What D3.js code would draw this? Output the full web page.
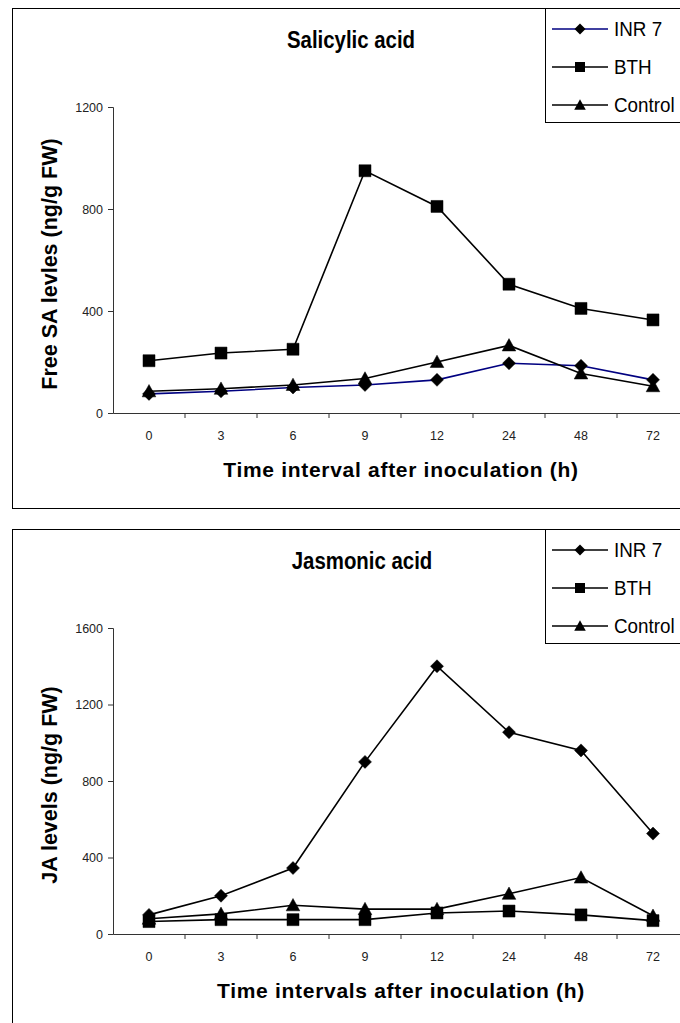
<!DOCTYPE html>
<html><head><meta charset="utf-8">
<script src="https://cdn.jsdelivr.net/npm/d3@7"></script>
<style>body{margin:0;background:#fff;overflow:hidden}</style>
</head><body><svg id="c" width="680" height="1023"></svg>
<script>
const categories = ["0","3","6","9","12","24","48","72"];
const seriesNames = ["INR 7","BTH","Control"];
const saINR7 = [75, 85, 100, 110, 130, 195, 185, 130];
const saBTH = [205, 235, 250, 950, 810, 505, 410, 365];
const saControl = [85, 95, 110, 135, 200, 265, 155, 105];
const jaINR7 = [100, 200, 345, 900, 1400, 1055, 960, 525];
const jaBTH = [65, 75, 75, 75, 110, 120, 100, 70];
const jaControl = [80, 105, 150, 130, 130, 210, 295, 95];
const saTicks = [0, 400, 800, 1200];
const jaTicks = [0, 400, 800, 1200, 1600];

const svg = d3.select("#c");
const FONT = "'Liberation Sans', Arial, sans-serif";

const markerPath = {
  diamond: r => `M0,${-r}L${r},0L0,${r}L${-r},0Z`,
  square: r => `M${-r},${-r}H${r}V${r}H${-r}Z`,
  triangle: r => `M0,${-r*1.05}L${r*1.05},${r*0.85}L${-r*1.05},${r*0.85}Z`
};

function panel(cfg) {
  const top = cfg.top;
  const g = svg.append("g");
  // frame
  g.append("rect").attr("x", 12.5).attr("y", top + 0.5).attr("width", 720).attr("height", cfg.frameH)
    .attr("fill", "#fff").attr("stroke", "#000").attr("stroke-width", 1);

  const x = d3.scaleBand().domain(categories).range([113, 113 + 72 * categories.length]).padding(0);
  const y = d3.scaleLinear().domain([0, cfg.max]).range([top + 405, top + 99]);

  // y axis
  const ya = g.append("g").attr("transform", "translate(113,0)")
    .call(d3.axisLeft(y).tickValues(cfg.ticks).tickSize(5).tickPadding(5).tickFormat(d3.format("d")));
  ya.select(".domain").attr("stroke", "#333");
  ya.selectAll(".tick line").attr("stroke", "#333");
  ya.selectAll("text").attr("font-family", FONT).attr("font-size", 12.5).attr("fill", "#222");

  // x axis (labels at band centers, ticks at band boundaries)
  const xa = g.append("g").attr("transform", `translate(0,${y(0)})`)
    .call(d3.axisBottom(x).tickSize(0).tickPadding(18));
  xa.select(".domain").attr("stroke", "#333");
  xa.selectAll("text").attr("font-family", FONT).attr("font-size", 12.5).attr("fill", "#222");
  g.append("g").selectAll("line").data(categories)
    .join("line")
    .attr("x1", d => x(d) + x.bandwidth()).attr("x2", d => x(d) + x.bandwidth())
    .attr("y1", y(0)).attr("y2", y(0) + 5).attr("stroke", "#333");

  // title
  g.append("text").attr("transform", `translate(${cfg.titleX},${top + 40}) scale(0.85,1)`)
    .attr("text-anchor", "middle").attr("font-family", FONT).attr("font-weight", "bold")
    .attr("font-size", 24).text(cfg.title);
  // axis titles
  g.append("text").attr("x", 401).attr("y", top + 469).attr("text-anchor", "middle")
    .attr("font-family", FONT).attr("font-weight", "bold").attr("font-size", 21)
    .attr("letter-spacing", 0.7).text(cfg.xTitle);
  g.append("text").attr("transform", `translate(57,${top + 256}) rotate(-90)`)
    .attr("text-anchor", "middle").attr("font-family", FONT).attr("font-weight", "bold")
    .attr("font-size", 21.5).text(cfg.yTitle);

  // series
  const line = d3.line().x((d, i) => x(categories[i]) + x.bandwidth() / 2).y(d => y(d));
  cfg.series.forEach(s => {
    g.append("path").datum(s.values).attr("d", line).attr("fill", "none")
      .attr("stroke", s.color).attr("stroke-width", 1.6);
  });
  cfg.series.forEach(s => {
    g.append("g").selectAll("path").data(s.values).join("path")
      .attr("transform", (d, i) => `translate(${x(categories[i]) + x.bandwidth() / 2},${y(d)})`)
      .attr("d", markerPath[s.marker](s.marker === "square" ? 6 : 6.5))
      .attr("fill", "#000").attr("stroke", "#000").attr("stroke-width", 0.5);
  });

  // legend
  const lg = g.append("g");
  lg.append("rect").attr("x", 545.5).attr("y", top + 0.5).attr("width", 200).attr("height", 114)
    .attr("fill", "#fff").attr("stroke", "#000");
  cfg.series.forEach((s, i) => {
    const ly = top + 21 + i * 38;
    lg.append("line").attr("x1", 552).attr("x2", 608).attr("y1", ly).attr("y2", ly)
      .attr("stroke", s.color).attr("stroke-width", 1.6);
    lg.append("path").attr("transform", `translate(580,${ly})`)
      .attr("d", markerPath[s.marker](s.marker === "square" ? 5 : 5.5)).attr("fill", "#000");
    lg.append("text").attr("transform", `translate(614,${ly + 7}) scale(0.92,1)`)
      .attr("font-family", FONT).attr("font-size", 20.5).text(s.name);
  });
}

panel({
  top: 8, frameH: 500, max: 1200, ticks: saTicks, titleX: 351,
  title: "Salicylic acid", xTitle: "Time interval after inoculation (h)", yTitle: "Free SA levles (ng/g FW)",
  series: [
    {name: seriesNames[0], values: saINR7, color: "#000080", marker: "diamond"},
    {name: seriesNames[1], values: saBTH, color: "#000", marker: "square"},
    {name: seriesNames[2], values: saControl, color: "#000", marker: "triangle"}
  ]
});
panel({
  top: 529, frameH: 520, max: 1600, ticks: jaTicks, titleX: 362,
  title: "Jasmonic acid", xTitle: "Time intervals after inoculation (h)", yTitle: "JA levels (ng/g FW)",
  series: [
    {name: seriesNames[0], values: jaINR7, color: "#000", marker: "diamond"},
    {name: seriesNames[1], values: jaBTH, color: "#000", marker: "square"},
    {name: seriesNames[2], values: jaControl, color: "#000", marker: "triangle"}
  ]
});
</script>
</body></html>
